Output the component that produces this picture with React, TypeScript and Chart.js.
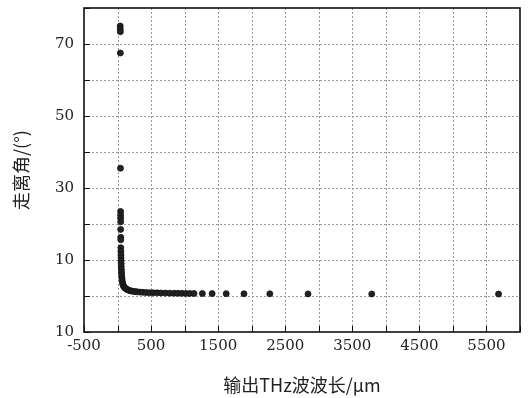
import React, { useEffect, useRef } from "react";
import { Chart, registerables } from "chart.js";

Chart.register(...registerables);

const wavelengths: number[] = [
  40, 40, 42, 42, 44, 46, 46, 46, 47, 47, 48, 48, 49, 50, 51, 52, 53, 54, 55, 57,
  59, 61, 64, 67, 71, 76, 82, 90, 100, 112, 126, 142, 160, 180, 205, 232, 262, 295,
  335, 378, 425, 475, 530, 590, 650, 715, 780, 845, 900, 960, 1020, 1075, 1140,
  1265, 1410, 1620, 1885, 2270, 2840, 3790, 5680,
];
const walkoffAngles: number[] = [
  75, 74.2, 73.4, 67.5, 35.5, 23.5, 22.5, 21.6, 20.6, 18.5, 16.3, 15.6, 13.4, 12.4,
  11.4, 10.6, 9.8, 9.0, 8.2, 7.4, 6.6, 5.9, 5.2, 4.6, 4.0, 3.5, 3.1, 2.75, 2.45, 2.2,
  2.0, 1.8, 1.65, 1.5, 1.4, 1.3, 1.22, 1.15, 1.08, 1.02, 0.97, 0.93, 0.9, 0.87, 0.84,
  0.81, 0.79, 0.77, 0.75, 0.73, 0.72, 0.71, 0.7, 0.68, 0.66, 0.64, 0.62, 0.6, 0.58,
  0.56, 0.54,
];
const xLabelTicks: number[] = [-500, 500, 1500, 2500, 3500, 4500, 5500];
const yLabelTicks: number[] = [-10, 10, 30, 50, 70];
const yTickText: Record<string, string> = { "-10": "10", "10": "10", "30": "30", "50": "50", "70": "70" };
const xGridValues: number[] = [0, 500, 1000, 1500, 2000, 2500, 3000, 3500, 4000, 4500, 5000, 5500];
const yGridValues: number[] = [0, 10, 20, 30, 40, 50, 60, 70];

const xTitle = "输出THz波波长/μm";
const yTitle = "走离角/(°)";

const gridPlugin = {
  id: "dottedGrid",
  beforeDatasetsDraw(chart: any) {
    const { ctx, chartArea, scales } = chart;
    const { left, right, top, bottom } = chartArea;
    ctx.save();
    ctx.strokeStyle = "#9a9a9a";
    ctx.lineWidth = 1;
    ctx.setLineDash([2, 2]);
    for (const v of xGridValues) {
      const px = Math.round(scales.x.getPixelForValue(v)) + 0.5;
      ctx.beginPath();
      ctx.moveTo(px, top);
      ctx.lineTo(px, bottom);
      ctx.stroke();
    }
    for (const v of yGridValues) {
      const py = Math.round(scales.y.getPixelForValue(v)) + 0.5;
      ctx.beginPath();
      ctx.moveTo(left, py);
      ctx.lineTo(right, py);
      ctx.stroke();
    }
    ctx.restore();
  },
};

const frameAndTicks = {
  id: "frameAndTicks",
  afterDatasetsDraw(chart: any) {
    const { ctx, chartArea, scales } = chart;
    const { left, right, top, bottom } = chartArea;
    ctx.save();
    ctx.strokeStyle = "#111";
    ctx.lineWidth = 1;
    for (let v = -500; v <= 6000; v += 500) {
      const px = Math.round(scales.x.getPixelForValue(v)) + 0.5;
      ctx.beginPath();
      ctx.moveTo(px, bottom);
      ctx.lineTo(px, bottom - 6);
      ctx.stroke();
    }
    for (let v = -10; v <= 80; v += 10) {
      const py = Math.round(scales.y.getPixelForValue(v)) + 0.5;
      ctx.beginPath();
      ctx.moveTo(left, py);
      ctx.lineTo(left + 6, py);
      ctx.stroke();
    }
    ctx.lineWidth = 1.6;
    ctx.strokeStyle = "#111";
    ctx.strokeRect(left, top, right - left, bottom - top);
    ctx.restore();
  },
};

export default function App() {
  const ref = useRef<HTMLCanvasElement>(null);
  useEffect(() => {
    document.body.style.margin = "0";
    const points = wavelengths.map((x, i) => ({ x, y: walkoffAngles[i] }));
    const chart = new Chart(ref.current as HTMLCanvasElement, {
      type: "scatter",
      data: {
        datasets: [
          {
            data: points,
            pointRadius: 3,
            pointBackgroundColor: "#222",
            pointBorderColor: "#111",
            pointBorderWidth: 0.8,
          },
        ],
      },
      options: {
        animation: false,
        responsive: false,
        devicePixelRatio: 1,
        layout: { padding: { left: 8, right: 11, top: 8, bottom: 2 } },
        plugins: { legend: { display: false }, tooltip: { enabled: false } },
        scales: {
          x: {
            type: "linear",
            min: -500,
            max: 6000,
            afterFit: (s: any) => {
              s.height = 64;
              s.paddingLeft = 0;
              s.paddingRight = 0;
            },
            afterBuildTicks: (s: any) => {
              const t = [];
              for (let v = -500; v <= 6000; v += 500) t.push({ value: v });
              s.ticks = t;
            },
            ticks: {
              autoSkip: false,
              maxRotation: 0,
              padding: 5,
              color: "#222",
              font: { family: "'DejaVu Serif', serif", size: 15 },
              callback: (v: any) => (xLabelTicks.includes(Number(v)) ? String(v) : ""),
            },
            grid: { display: false, drawTicks: false, tickLength: 0 },
            border: { display: false },
            title: {
              display: true,
              text: xTitle,
              color: "#222",
              font: { family: "'Noto Sans CJK SC', sans-serif", size: 18 },
              padding: { top: 4, bottom: 0 },
            },
          },
          y: {
            type: "linear",
            min: -10,
            max: 80,
            afterFit: (s: any) => {
              s.width = 76;
              s.paddingTop = 0;
              s.paddingBottom = 0;
            },
            afterBuildTicks: (s: any) => {
              const t = [];
              for (let v = -10; v <= 80; v += 10) t.push({ value: v });
              s.ticks = t;
            },
            ticks: {
              autoSkip: false,
              padding: 10,
              color: "#222",
              font: { family: "'DejaVu Serif', serif", size: 15 },
              callback: (v: any) => (yLabelTicks.includes(Number(v)) ? yTickText[String(v)] : ""),
            },
            grid: { display: false, drawTicks: false, tickLength: 0 },
            border: { display: false },
            title: {
              display: true,
              text: yTitle,
              color: "#222",
              font: { family: "'Noto Sans CJK SC', sans-serif", size: 18 },
              padding: { top: 2, bottom: 2 },
            },
          },
        },
      },
      plugins: [gridPlugin, frameAndTicks],
    } as any);
    return () => chart.destroy();
  }, []);
  return <canvas ref={ref} width={531} height={398} style={{ display: "block" }} />;
}
